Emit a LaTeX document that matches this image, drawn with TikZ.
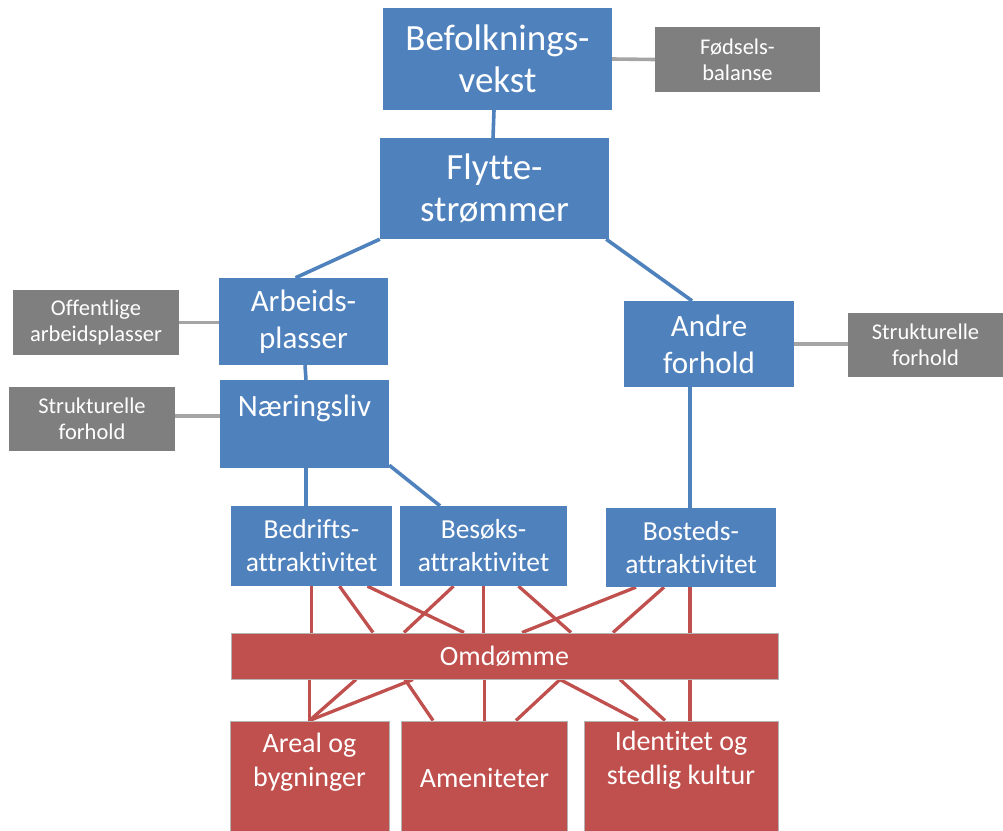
\documentclass[tikz,border=0pt]{standalone}
\usepackage{fontspec}
\setmainfont{Carlito}[Ligatures=NoCommon]
\usetikzlibrary{calc,backgrounds}
\definecolor{bl}{HTML}{4F81BD}
\definecolor{gr}{HTML}{7F7F7F}
\definecolor{rd}{HTML}{C0504D}
\definecolor{grl}{HTML}{A5A5A5}
\definecolor{rdb}{HTML}{B4B4B4}
\begin{document}
\begin{tikzpicture}[x=1pt,y=-1pt,
  box/.style={rectangle, inner sep=0pt, text=white, align=center},
  bbox/.style={box, fill=bl},
  gbox/.style={box, fill=gr, font=\fontsize{22.5}{26}\selectfont},
  rbox/.style={box, fill=rd, draw=rdb, line width=1pt},
  big/.style={font=\fontsize{37}{42}\selectfont},
  mid/.style={font=\fontsize{31}{37}\selectfont},
  att/.style={font=\fontsize{27.5}{33}\selectfont},
  bot/.style={font=\fontsize{28}{34}\selectfont},
  lbl/.style={text=white, align=center},
  bline/.style={draw=bl, line width=3.6pt},
  gline/.style={draw=grl, line width=3.6pt},
  rline/.style={draw=rd, line width=3.3pt}]
\useasboundingbox (0,0) rectangle (1003,830);

% blue boxes
\node[bbox, big, minimum width=229, minimum height=102] (bef) at (497.5,59) {Befolknings-\\vekst};
\node[bbox, big, minimum width=229, minimum height=101] (fly) at (494.5,188.5) {Flytte-\\strømmer};
\node[bbox, mid, minimum width=169, minimum height=87] (arb) at (303.5,321.5) {Arbeids-\\plasser};
\node[bbox, minimum width=169, minimum height=88,
  label={[lbl, mid, yshift=16]center:Næringsliv}] (nae) at (304.5,424) {};
\node[bbox, mid, minimum width=170, minimum height=86] (andr) at (709,344) {Andre\\forhold};
\node[bbox, att, minimum width=161, minimum height=80] (bed) at (311.5,546) {Bedrifts-\\attraktivitet};
\node[bbox, att, minimum width=167, minimum height=80] (bes) at (483.5,546) {Besøks-\\attraktivitet};
\node[bbox, att, minimum width=170, minimum height=79] (bos) at (691,547.5) {Bosteds-\\attraktivitet};

% grey boxes
\node[gbox, minimum width=165, minimum height=65] (fod) at (737.5,59.5) {Fødsels-\\balanse};
\node[gbox, minimum width=166, minimum height=65] (off) at (96,322.5) {Offentlige\\arbeidsplasser};
\node[gbox, minimum width=166, minimum height=64] (str1) at (92,419) {Strukturelle\\forhold};
\node[gbox, minimum width=155, minimum height=64] (str2) at (925.5,345) {Strukturelle\\forhold};

% red boxes
\node[rbox, font=\fontsize{28}{33}\selectfont, minimum width=547, minimum height=46] (omd) at (504.5,656) {Omdømme};
\node[rbox, minimum width=159, minimum height=114,
  label={[lbl, bot, yshift=16]center:Areal og\\bygninger}] (are) at (309.5,778) {};
\node[rbox, bot, minimum width=166, minimum height=114] (ame) at (484.5,778) {Ameniteter};
\node[rbox, minimum width=194, minimum height=114,
  label={[lbl, bot, yshift=18]center:Identitet og\\stedlig kultur}] (idn) at (681,778) {};

\begin{pgfonlayer}{background}
% blue and grey connectors
\draw[bline] ($(bef.south)+(-3.5,0)$) -- ($(fly.north)+(-1.5,0)$);
\draw[gline] (bef.east) -- (fod.west);
\draw[bline] (fly.south west) -- ($(arb.north)+(-8,0)$);
\draw[bline] ($(fly.south east)+(-3,0)$) -- ($(andr.north)+(-17,0)$);
\draw[gline] (off.east) -- (off.east -| arb.west);
\draw[bline] ($(arb.south)+(1.5,0)$) -- ($(nae.north)+(1.5,0)$);
\draw[gline] ($(str1.east)+(0,-3)$) -- ($(str1.east -| nae.west)+(0,-3)$);
\draw[gline] (andr.east) -- (andr.east -| str2.west);
\draw[bline] ($(andr.south -| bos.north)+(-1,0)$) -- ($(bos.north)+(-1,0)$);
\draw[bline] ($(nae.south)+(1.5,0)$) -- ($(bed.north)+(-5.5,0)$);
\draw[bline] ($(nae.south east)+(0,-3)$) -- ($(bes.north)+(-43.5,0)$);

% red connectors, upper
\draw[rline] (bed.south) -- (bed.south |- omd.north);
\draw[rline] ($(bed.south)+(28,0)$) -- ($(omd.north)+(-131.5,0)$);
\draw[rline] ($(bed.south)+(56,0)$) -- ($(omd.north)+(-40.5,0)$);
\draw[rline] ($(bes.south)+(-30,0)$) -- ($(omd.north)+(-100.5,0)$);
\draw[rline] (bes.south) -- (bes.south |- omd.north);
\draw[rline] ($(bes.south)+(35,0)$) -- ($(omd.north)+(66.5,0)$);
\draw[rline] ($(bos.south)+(-55,0)$) -- ($(omd.north)+(17.5,0)$);
\draw[rline] ($(bos.south)+(-27,0)$) -- ($(omd.north)+(108.5,0)$);
\draw[rline] ($(bos.south)+(-1,0)$) -- ($(bos.south |- omd.north)+(-1,0)$);

% red connectors, lower
\draw[rline] (are.north |- omd.south) -- (are.north);
\draw[rline] ($(omd.south)+(-148.5,0)$) -- (are.north);
\draw[rline] ($(omd.south)+(-91.5,0)$) -- (are.north);
\draw[rline] ($(omd.south)+(-99.5,0)$) -- ($(ame.north)+(-51.5,0)$);
\draw[rline] (ame.north |- omd.south) -- (ame.north);
\draw[rline] ($(omd.south)+(55.5,0)$) -- ($(ame.north)+(31.5,0)$);
\draw[rline] ($(omd.south)+(55.5,0)$) -- ($(idn.north)+(-43,0)$);
\draw[rline] ($(omd.south)+(115.5,0)$) -- ($(idn.north)+(-16,0)$);
\draw[rline] ($(idn.north |- omd.south)+(9,0)$) -- ($(idn.north)+(9,0)$);
\end{pgfonlayer}
\end{tikzpicture}
\end{document}
